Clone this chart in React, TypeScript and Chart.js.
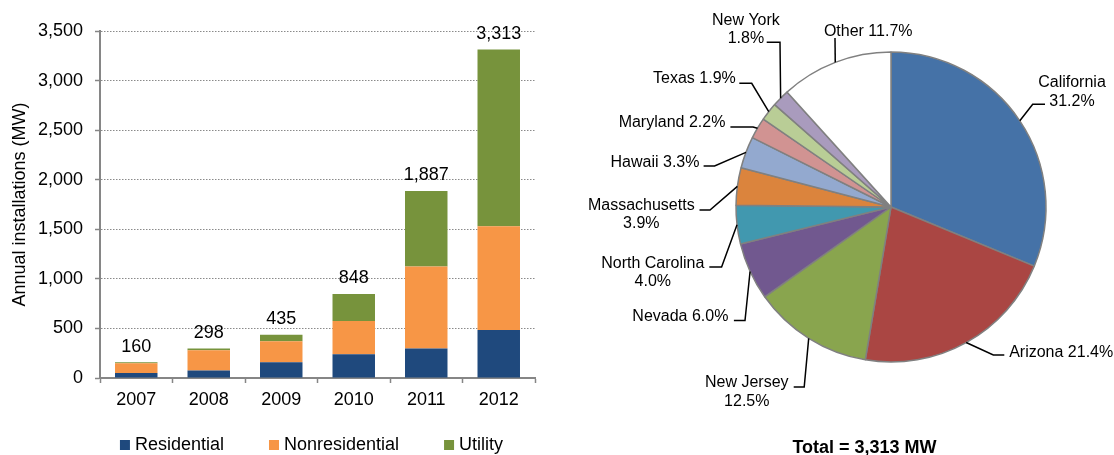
import React, { useEffect, useRef } from 'react';
import { Chart, registerables } from 'chart.js';

Chart.register(...registerables);

const FONT = "'Liberation Sans', Arial, Helvetica, sans-serif";
Chart.defaults.font.family = FONT;

// ---------- Bar chart data ----------
const years = ['2007', '2008', '2009', '2010', '2011', '2012'];
const residential = [51, 76, 158, 239, 298, 485];
const nonresidential = [97, 203, 212, 337, 827, 1045];
const utility = [12, 19, 65, 272, 762, 1783];
const seriesNames = ['Residential', 'Nonresidential', 'Utility'];
const seriesColors = ['#1F497D', '#F79646', '#77933C'];
const yAxisTitle = 'Annual installations (MW)';
const yMax = 3500;
const yStep = 500;

// ---------- Pie chart data ----------
const states = [
  'California', 'Arizona', 'New Jersey', 'Nevada', 'North Carolina',
  'Massachusetts', 'Hawaii', 'Maryland', 'Texas', 'New York', 'Other',
];
const shares = [31.2, 21.4, 12.5, 6.0, 4.0, 3.9, 3.3, 2.2, 1.9, 1.8, 11.7];
const stateColors = [
  '#4572A7', '#AA4643', '#89A54E', '#71588F', '#4198AF',
  '#DB843D', '#93A9CF', '#D19392', '#B9CD96', '#A99BBD', '#FFFFFF',
];
const totalMW = 3313;

// label layout (offsets from pie centre, px at radius 155)
// tx: text centre x, ty: first baseline, ex/ey: elbow, hx: end of horizontal leader, two: two-line label
const pieLabelLayout = [
  { tx: 181, ty: -120, ex: 141.7, ey: -102.7, hx: 154, two: true },
  { tx: 170.2, ty: 149.7, ex: 102.3, ey: 148, hx: 113.3, two: false },
  { tx: -144.2, ty: 180, ex: -86.8, ey: 180, hx: -97.3, two: true },
  { tx: -210.6, ty: 113.7, ex: -146, ey: 113.6, hx: -157.1, two: false },
  { tx: -238.2, ty: 60.8, ex: -169.4, ey: 60, hx: -181.7, two: true },
  { tx: -249.7, ty: 2.5, ex: -181, ey: 3, hx: -191.5, two: true },
  { tx: -236, ty: -40, ex: -176.4, ey: -41, hx: -187.4, two: false },
  { tx: -219, ty: -79.7, ex: -138, ey: -80, hx: -160.6, two: false },
  { tx: -196.6, ty: -124, ex: -139.3, ey: -123.7, hx: -151.7, two: false },
  { tx: -145.1, ty: -182.2, ex: -111, ey: -164.7, hx: -124.3, two: true },
  { tx: -22.8, ty: -170.7, ex: -56, ey: -169, hx: -56, two: false },
];

const AXIS = '#868686';
const GRID = '#8a8a8a';
const TEXT = '#000000';

const totalsPlugin = {
  id: 'totals',
  afterDatasetsDraw(chart: any) {
    const ctx = chart.ctx;
    const n = chart.data.datasets.length;
    const meta = chart.getDatasetMeta(n - 1);
    ctx.save();
    ctx.font = `18px ${FONT}`;
    ctx.fillStyle = TEXT;
    ctx.textAlign = 'center';
    ctx.textBaseline = 'alphabetic';
    meta.data.forEach((bar: any, i: number) => {
      let total = 0;
      chart.data.datasets.forEach((d: any) => { total += d.data[i]; });
      ctx.fillText(total.toLocaleString('en-US'), bar.x, bar.y - 10.5);
    });
    ctx.restore();
  },
};

const barLegendPlugin = {
  id: 'barLegend',
  afterDraw(chart: any) {
    const ctx = chart.ctx;
    ctx.save();
    ctx.font = `18px ${FONT}`;
    const items = chart.data.datasets.map((d: any) => ({ label: d.label, color: d.backgroundColor }));
    const box = 10, gap = 5, spacing = 45;
    const widths = items.map((it: any) => box + gap + ctx.measureText(it.label).width);
    const total = widths.reduce((a: number, b: number) => a + b, 0) + spacing * (items.length - 1);
    const cx = (chart.chartArea.left + chart.chartArea.right) / 2 - 6;
    let x = cx - total / 2;
    const baseY = chart.height - 5;
    items.forEach((it: any, i: number) => {
      ctx.fillStyle = it.color;
      ctx.fillRect(x, baseY - 10, box, box);
      ctx.fillStyle = TEXT;
      ctx.textAlign = 'left';
      ctx.textBaseline = 'alphabetic';
      ctx.fillText(it.label, x + box + gap, baseY);
      x += widths[i] + spacing;
    });
    ctx.restore();
  },
};

const pieLabelsPlugin = {
  id: 'pieLabels',
  afterDraw(chart: any) {
    const ctx = chart.ctx;
    const meta = chart.getDatasetMeta(0);
    ctx.save();
    ctx.font = `16px ${FONT}`;
    ctx.strokeStyle = '#000';
    ctx.lineWidth = 1.5;
    ctx.fillStyle = TEXT;
    ctx.textAlign = 'center';
    ctx.textBaseline = 'alphabetic';
    meta.data.forEach((arc: any, i: number) => {
      const p = arc.getProps(['x', 'y', 'startAngle', 'endAngle', 'outerRadius'], true);
      const mid = (p.startAngle + p.endAngle) / 2;
      const k = p.outerRadius / 155;
      const L = pieLabelLayout[i];
      const px = p.x + Math.cos(mid) * p.outerRadius;
      const py = p.y + Math.sin(mid) * p.outerRadius;
      ctx.beginPath();
      ctx.moveTo(px, py);
      ctx.lineTo(p.x + L.ex * k, p.y + L.ey * k);
      ctx.lineTo(p.x + L.hx * k, p.y + L.ey * k);
      ctx.stroke();
      const pct = shares[i].toFixed(1) + '%';
      const lines = L.two ? [states[i], pct] : [states[i] + ' ' + pct];
      lines.forEach((t, j) => {
        ctx.fillText(t, p.x + L.tx * k, p.y + (L.ty + j * 18.5) * k);
      });
    });
    // total caption
    const cx = meta.data[0].x;
    ctx.font = `bold 18px ${FONT}`;
    ctx.fillText(`Total = ${totalMW.toLocaleString('en-US')} MW`, cx - 26.5, chart.height - 2);
    ctx.restore();
  },
};

function BarChart() {
  const ref = useRef<HTMLCanvasElement>(null);
  useEffect(() => {
    const seriesData = [residential, nonresidential, utility];
    const chart = new Chart(ref.current as HTMLCanvasElement, {
      type: 'bar',
      data: {
        labels: years,
        datasets: seriesNames.map((name, i) => ({
          label: name,
          data: seriesData[i],
          backgroundColor: seriesColors[i],
          borderWidth: 0,
          categoryPercentage: 1,
          barPercentage: 0.586,
        })),
      },
      options: {
        responsive: false,
        animation: false,
        devicePixelRatio: 1,
        layout: { padding: { left: 0, right: 25, top: 31, bottom: 0 } },
        plugins: { legend: { display: false }, tooltip: { enabled: false } },
        scales: {
          x: {
            stacked: true,
            grid: {
              offset: true, drawOnChartArea: false, drawTicks: true,
              tickLength: 5, tickColor: AXIS, tickWidth: 1.5,
            },
            border: { display: true, color: AXIS, width: 2 },
            ticks: { color: TEXT, font: { size: 18, family: FONT }, padding: 6, maxRotation: 0, autoSkip: false },
            afterFit: (s: any) => { s.height = 77; },
          },
          y: {
            stacked: true,
            min: 0,
            max: yMax,
            grid: {
              color: GRID, lineWidth: 1, drawTicks: true, tickLength: 5,
              tickColor: AXIS, tickWidth: 1.5, tickBorderDash: [],
            },
            border: { display: true, color: AXIS, width: 2, dash: [1.5, 1.5] },
            ticks: {
              stepSize: yStep, color: TEXT, font: { size: 18, family: FONT }, padding: 12,
              callback: (v: any) => Number(v).toLocaleString('en-US'),
            },
            title: {
              display: true, text: yAxisTitle, color: TEXT,
              font: { size: 18, family: FONT }, padding: { top: 9, bottom: 0 },
            },
            afterFit: (s: any) => { s.width = 100; },
          },
        },
      } as any,
      plugins: [totalsPlugin, barLegendPlugin],
    });
    return () => chart.destroy();
  }, []);
  return (
    <canvas
      ref={ref}
      width={560}
      height={455}
      style={{ position: 'absolute', left: 0, top: 0, width: 560, height: 455 }}
    />
  );
}

function PieChart() {
  const ref = useRef<HTMLCanvasElement>(null);
  useEffect(() => {
    const chart = new Chart(ref.current as HTMLCanvasElement, {
      type: 'pie',
      data: {
        labels: states,
        datasets: [{
          data: shares,
          backgroundColor: stateColors,
          borderColor: '#808080',
          borderWidth: 1.5,
        }],
      },
      options: {
        responsive: false,
        animation: false,
        devicePixelRatio: 1,
        layout: { padding: { left: 175.25, right: 67.25, top: 51.25, bottom: 92.25 } },
        plugins: { legend: { display: false }, tooltip: { enabled: false } },
      } as any,
      plugins: [pieLabelsPlugin],
    });
    return () => chart.destroy();
  }, []);
  return (
    <canvas
      ref={ref}
      width={554}
      height={455}
      style={{ position: 'absolute', left: 560, top: 0, width: 554, height: 455 }}
    />
  );
}

export default function App() {
  return (
    <div style={{ position: 'absolute', left: 0, top: 0, width: 1114, height: 455, background: '#ffffff', overflow: 'hidden' }}>
      <BarChart />
      <PieChart />
    </div>
  );
}
